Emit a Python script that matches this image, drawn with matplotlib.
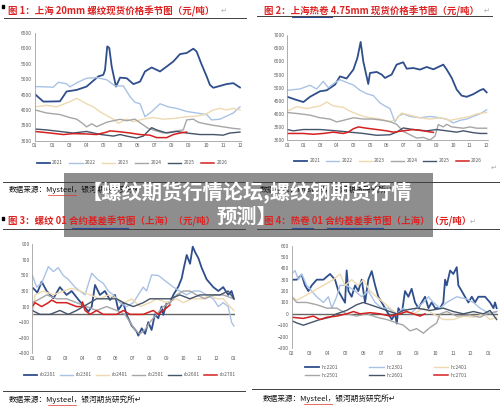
import matplotlib
matplotlib.use("Agg")
import matplotlib.pyplot as plt
from matplotlib.lines import Line2D
from matplotlib.patches import Rectangle

plt.rcParams['font.family'] = ['Noto Sans CJK SC', 'DejaVu Sans']

W, H = 500, 409

# ---- chart 1: Shanghai 20mm rebar spot (x = month position on the axis)
c1_xlabels = ['01', '01', '03', '04', '05', '05', '06', '07', '08', '09', '10', '11', '12']
c1_2021_x = [0, 0.49, 1.46, 1.85, 2.44, 3.02, 3.71, 4.0, 4.1, 4.23, 4.35, 4.49, 4.74, 4.98, 5.37, 5.76,
             6.15, 6.44, 6.83, 7.32, 7.71, 8.1, 8.49, 8.88, 9.27, 9.46, 9.76, 10.05, 10.24, 10.44, 10.83,
             11.22, 11.61, 12.0]
c1_2021_y = [4510, 4270, 4280, 4600, 4650, 4760, 5090, 5140, 5300, 6065, 6010, 5410, 4760, 5050, 5030, 4840,
             4920, 5250, 5380, 5250, 5410, 5575, 5815, 5850, 5990, 5900, 5470, 5090, 4815, 4720, 4780,
             4840, 4870, 4730]
c1_2022_x = [0, 1.07, 1.37, 1.85, 2.05, 2.44, 3.02, 3.61, 4.2, 4.68, 5.17, 5.56, 5.85, 6.15, 6.44, 6.83,
             7.32, 7.8, 8.29, 8.88, 9.46, 10.05, 10.34, 10.83, 11.22, 11.61, 12.0]
c1_2022_y = [4760, 4740, 4900, 4850, 4750, 4880, 5030, 5050, 4980, 4780, 4780, 4435, 4250, 4200, 3780, 3945,
             4200, 4100, 4050, 3950, 3900, 3850, 3675, 3700, 3800, 3900, 4100]
c1_2023_x = [0, 0.68, 1.27, 2.05, 2.44, 3.02, 3.41, 3.8, 4.2, 4.59, 4.88, 5.37, 5.76, 6.34, 6.93, 7.51,
             8.1, 8.88, 9.46, 9.95, 10.44, 10.83, 11.22, 11.61, 12.0]
c1_2023_y = [4100, 4150, 4100, 4270, 4380, 4200, 4100, 3945, 3815, 3700, 3565, 3700, 3620, 3700, 3750, 3700,
             3720, 3780, 3800, 3850, 4000, 4050, 4000, 4050, 4000]
c1_2024_x = [0, 0.68, 1.46, 2.05, 2.44, 2.83, 3.02, 3.32, 3.61, 4.2, 4.59, 4.98, 5.37, 5.85, 6.34, 6.63,
             6.93, 7.51, 8.1, 8.68, 8.88, 9.27, 9.56, 9.95, 10.44, 11.02, 11.61, 12.0]
c1_2024_y = [4000, 3900, 3850, 3750, 3700, 3545, 3450, 3550, 3455, 3600, 3650, 3695, 3650, 3700, 3510, 3400,
             3350, 3250, 3300, 3350, 3675, 3700, 3600, 3550, 3500, 3450, 3400, 3380]
c1_2025_x = [0, 0.68, 1.46, 2.24, 3.02, 3.8, 4.59, 4.98, 5.37, 5.95, 6.34, 6.83, 7.12, 7.71, 8.29, 8.88,
             9.66, 10.44, 11.02, 11.41, 12.0]
c1_2025_y = [3380, 3350, 3300, 3250, 3300, 3206, 3150, 3200, 3150, 3087, 3150, 3424, 3350, 3250, 3300, 3250,
             3200, 3200, 3180, 3250, 3280]
c1_2026_x = [0, 0.88, 1.66, 2.24, 3.02, 3.61, 4.2, 4.39, 4.98, 5.56, 6.15, 6.73, 7.12, 7.71, 8.1, 8.49, 8.88]
c1_2026_y = [3300, 3250, 3200, 3230, 3220, 3200, 3280, 3320, 3290, 3250, 3200, 3180, 3100, 3100, 3200, 3250, 3280]

# ---- chart 2: Shanghai 4.75mm hot coil spot
c2_xlabels = ['01', '01', '03', '04', '05', '05', '06', '07', '08', '09', '10', '11', '12']
c2_2021_x = [0, 0.46, 0.97, 1.37, 1.97, 2.38, 2.88, 3.18, 3.58, 3.99, 4.23, 4.43, 4.59, 4.89, 4.99, 5.4,
             5.7, 5.9, 6.3, 6.6, 7.0, 7.21, 7.61, 8.01, 8.42, 8.82, 9.42, 9.62, 9.93, 10.23, 10.53, 10.83,
             11.23, 11.64, 11.84, 12.04]
c2_2021_y = [4650, 4550, 4450, 4650, 4860, 4900, 5115, 5430, 5350, 5690, 6130, 6745, 6000, 5140, 5560, 5600,
             5500, 5370, 5500, 5880, 5970, 5725, 5750, 5690, 5790, 5700, 5880, 5700, 5370, 4925, 4695, 4650,
             4750, 4900, 4950, 4820]
c2_2022_x = [0, 0.76, 1.37, 1.77, 2.17, 2.48, 2.78, 3.18, 3.58, 3.99, 4.39, 4.79, 5.19, 5.6, 5.9, 6.2,
             6.5, 6.7, 7.0, 7.41, 8.01, 8.62, 9.22, 9.62, 10.03, 10.43, 10.83, 11.23, 11.64, 12.04]
c2_2022_y = [4900, 4950, 5090, 4950, 5240, 5000, 5150, 5305, 5200, 5100, 4900, 4770, 4700, 4415, 4300, 4200,
             3690, 3905, 4000, 3900, 3850, 3900, 3850, 3800, 3650, 3750, 3800, 3900, 4000, 4150]
c2_2023_x = [0, 0.56, 1.17, 1.97, 2.38, 2.78, 3.38, 3.78, 4.19, 4.59, 4.99, 5.6, 6.2, 6.6, 6.9, 7.41,
             8.01, 8.62, 9.22, 9.82, 10.23, 10.63, 11.03, 11.44, 12.04]
c2_2023_y = [4100, 4275, 4200, 4300, 4450, 4300, 4250, 4100, 4000, 3900, 3850, 3800, 3700, 3800, 4030, 3950,
             3850, 3800, 3850, 3750, 3800, 3850, 3900, 4000, 4050]
c2_2024_x = [0, 0.77, 1.37, 1.97, 2.58, 2.98, 3.38, 3.99, 4.59, 5.19, 5.8, 6.2, 6.6, 7.0, 7.41, 7.81,
             8.21, 8.62, 8.92, 9.12, 9.42, 9.62, 9.93, 10.63, 11.03, 11.44, 12.04]
c2_2024_y = [4050, 4000, 3950, 3850, 3800, 3690, 3750, 3850, 3800, 3800, 3750, 3700, 3600, 3330, 3200, 3075,
             3100, 3000, 3150, 3590, 3500, 3600, 3500, 3450, 3500, 3450, 3450]
c2_2025_x = [0, 0.36, 0.97, 1.97, 2.98, 3.78, 4.59, 5.4, 6.2, 6.6, 7.0, 7.61, 8.42, 9.02, 9.62, 10.23,
             10.63, 11.23, 11.64, 12.04]
c2_2025_y = [3400, 3350, 3400, 3400, 3350, 3300, 3250, 3180, 3200, 3300, 3460, 3400, 3350, 3400, 3350, 3300,
             3350, 3280, 3250, 3250]
c2_2026_x = [0, 0.97, 1.57, 2.17, 2.78, 3.38, 3.68, 3.99, 4.29, 4.79, 5.4, 6.0, 6.4, 7.0, 7.61, 8.21, 8.82]
c2_2026_y = [3250, 3250, 3220, 3250, 3300, 3250, 3300, 3430, 3500, 3450, 3400, 3350, 3300, 3350, 3400, 3350, 3290]

# ---- chart 3: rebar 01 contract basis (Shanghai)
c3_xlabels = ['01', '02', '03', '04', '05', '06', '07', '08', '09', '10', '11', '12', '01']
rb2201_x = [0.06, 0.3, 0.56, 0.86, 1.26, 1.65, 2.05, 2.35, 2.85, 3.05, 3.35, 3.55, 3.75, 4.04, 4.34, 4.64,
            4.94, 5.14, 5.44, 5.64, 5.94, 6.24, 6.34, 6.54, 6.74, 6.93, 7.13, 7.33, 7.53, 7.73, 7.83, 8.03,
            8.23, 8.43, 8.73, 8.93, 9.03, 9.23, 9.43, 9.59, 9.73, 9.93, 10.12, 10.42, 10.62, 10.82, 11.12,
            11.41, 11.71, 11.91, 12.05]
rb2201_y = [335, 280, 420, 300, 206, 350, 250, 300, 164, 121, 35, 100, 378, 250, 300, 185,
            250, 57, 150, -7, -144, -221, -273, -179, -250, -100, -200, 0, -50, 100, -7, 150,
            150, 250, 357, 463, 570, 763, 650, 870, 800, 720, 600, 450, 400, 350, 300,
            350, 250, 300, 200]
rb2301_x = [0, 0.26, 0.56, 0.96, 1.26, 1.55, 1.85, 2.15, 2.55, 2.85, 3.15, 3.55, 3.94, 4.24, 4.54, 4.84,
            5.24, 5.64, 6.04, 6.33, 6.63, 6.83, 7.13, 7.53, 7.83, 8.13, 8.43, 8.82, 9.22, 9.62, 10.02,
            10.42, 10.82, 11.12, 11.41, 11.71, 11.91, 12.05]
rb2301_y = [506, 350, 400, 613, 550, 600, 500, 450, 350, 300, 250, 528, 442, 400, 300, 250,
            150, 100, 150, 250, 350, 300, 506, 500, 450, 400, 350, 300, 250, 300, 300,
            250, 200, 100, 150, 100, -100, -150]
rb2401_x = [0, 0.16, 0.66, 1.26, 1.85, 2.35, 2.85, 3.45, 4.04, 4.54, 5.04, 5.54, 5.94, 6.43, 7.03, 7.43,
            8.03, 8.63, 9.02, 9.52, 10.22, 10.62, 11.02, 11.41, 11.81, 12.05]
rb2401_y = [-50, 250, 300, 250, 300, 335, 300, 250, 200, 250, 200, 150, 200, 100, 150, 200,
            150, 200, 150, 200, 200, 250, 200, 200, 100, 50]
rb2501_x = [0, 0.46, 0.86, 1.45, 2.05, 2.65, 3.25, 3.84, 4.44, 5.04, 5.54, 5.84, 6.14, 6.43, 6.73, 7.03,
            7.43, 7.83, 8.23, 8.63, 9.02, 9.42, 9.82, 10.32, 10.82, 11.41, 12.05]
rb2501_y = [150, 200, 250, 200, 200, 150, 100, 50, 100, 50, 0, -100, -200, -250, -200, -100,
            0, 100, 150, 250, 300, 300, 250, 200, 250, 250, 200]
rb2601_x = [0, 0.46, 1.06, 1.65, 2.15, 2.65, 3.05, 3.45, 3.84, 4.44, 5.04, 5.44, 6.04, 6.63, 7.03, 7.63,
            8.23, 8.82, 9.42, 10.02, 10.62, 11.22, 11.71, 12.05]
rb2601_y = [50, 0, 0, 50, 0, 50, 100, 150, 200, 200, 200, 150, 100, 150, 200, 200,
            200, 250, 200, 250, 250, 250, 300, 200]
rb2701_x = [0, 0.16, 0.56, 0.96, 1.16, 1.45, 2.05, 2.65, 2.95, 3.0, 3.15, 3.45, 3.84, 4.24, 5.04, 5.44,
            5.84, 6.63, 7.23, 7.53, 7.83, 8.23]
rb2701_y = [100, 150, 100, 150, 184, 150, 150, 100, 100, 160, 51, 0, 50, 0, 0, 50,
            0, 0, 50, 0, 50, 121]

# ---- chart 4: hot coil 01 contract basis (Shanghai)
c4_xlabels = ['02', '03', '04', '05', '06', '07', '08', '09', '10', '11', '12', '01']
hc2201_x = [0, 0.28, 0.56, 0.74, 0.93, 1.12, 1.4, 1.77, 2.14, 2.42, 2.61, 2.79, 2.98, 3.07, 3.17, 3.35,
            3.54, 3.72, 3.91, 4.1, 4.28, 4.47, 4.66, 4.84, 5.03, 5.21, 5.4, 5.59, 5.77, 5.87, 5.96, 6.15,
            6.33, 6.52, 6.7, 6.89, 7.08, 7.26, 7.45, 7.64, 7.82, 8.01, 8.29, 8.47, 8.57, 8.66, 8.85, 9.03,
            9.22, 9.31, 9.5, 9.68, 9.87, 10.06, 10.24, 10.43, 10.8, 11.08, 11.27, 11.36, 11.45]
hc2201_y = [300, 300, 343, 250, 200, 250, 300, 300, 350, 300, 200, 150, 98, 381, 200, 150,
            250, 200, 300, 100, 300, 375, 250, 150, 100, 50, 0, -50, 0, -86, 50, 0,
            200, 150, 220, 100, 50, 100, 150, 50, 100, 50, 50, 100, 300, 250, 380, 350,
            410, 250, 200, 150, 100, 150, 100, 150, 150, 100, 50, 100, 50]
hc2301_x = [0, 0.19, 0.37, 0.56, 0.84, 1.12, 1.4, 1.77, 2.05, 2.24, 2.51, 2.7, 3.07, 3.54, 3.91, 4.28,
            4.66, 5.03, 5.4, 5.87, 6.24, 6.61, 6.98, 7.36, 7.64, 7.91, 8.29, 8.66, 9.22, 9.78, 10.15,
            10.52, 11.08, 11.45]
hc2301_y = [350, 380, 300, 350, 250, 200, 150, 100, 150, 50, 150, 250, 250, 200, 150, 200,
            100, 50, 50, 0, 50, 0, 50, 100, 150, 100, 50, 100, 150, 130, 100,
            50, 0, 20]
hc2401_x = [0, 0.28, 0.65, 1.21, 1.77, 2.33, 2.7, 2.98, 3.35, 3.72, 4.0, 4.38, 4.75, 5.12, 5.49, 5.87,
            6.24, 6.8, 7.36, 7.91, 8.47, 9.03, 9.59, 10.15, 10.71, 11.08, 11.45]
hc2401_y = [150, 120, 150, 200, 250, 300, 350, 250, 300, 250, 300, 200, 150, 100, 50, 0,
            20, 0, 50, 0, -50, -50, -20, -30, 0, -50, -30]
hc2501_x = [0, 0.28, 0.84, 1.4, 1.96, 2.51, 3.07, 3.63, 4.19, 4.75, 5.31, 5.87, 6.24, 6.61, 6.98, 7.36,
            7.73, 8.1, 8.29, 8.66, 9.22, 9.96, 10.52, 10.89, 11.45]
hc2501_y = [150, 100, 100, 80, 50, 50, 0, -20, 0, -30, -50, -80, -100, -150, -130, -170,
            -120, -80, 0, 20, -20, -10, -30, 0, 20]
hc2601_x = [0, 0.28, 0.65, 1.02, 1.58, 2.14, 2.51, 3.07, 3.63, 4.0, 4.38, 4.94, 5.49, 5.87, 6.24, 6.98,
            7.73, 8.47, 9.03, 9.59, 10.15, 10.71, 11.08, 11.45]
hc2601_y = [-60, -80, -100, -80, -50, -30, 0, 30, 80, 100, 80, 50, 20, 0, 30, 50,
            30, 50, 20, 0, 20, 0, 30, -50]
hc2701_x = [0, 0.65, 1.21, 1.58, 1.96, 2.51, 3.07, 3.45, 3.82, 4.38, 4.94, 5.49, 6.05, 6.42, 6.8, 7.17, 7.45]
hc2701_y = [-30, -40, -20, -50, -30, -20, 0, 20, 0, 10, 0, -20, 0, 20, 0, -20, 0]

years = ['2021', '2022', '2023', '2024', '2025', '2026']
colors = ['#2F4E8C', '#A9C3E6', '#EED9B0', '#A6A6A6', '#44546A', '#D42020']
widths = [1.3, 1.0, 1.0, 1.0, 1.0, 1.1]


def frac_rect(x0, x1, y_top, y_bot):
    return [x0 / W, 1 - y_bot / H, (x1 - x0) / W, (y_bot - y_top) / H]


def hline(fig, x0, x1, y, color='#404040', lw=0.7):
    fig.add_artist(Line2D([x0 / W, x1 / W], [1 - y / H, 1 - y / H], color=color, lw=lw))


def season_chart(fig, rect, series, labels, xlim, ylim, yticks, xlabels, zero=False):
    ax = fig.add_axes(rect)
    handles = []
    for (xs, ys), lab, c, lw in zip(series, labels, colors, widths):
        h, = ax.plot(xs, ys, color=c, lw=lw, label=lab)
        handles.append(h)
    ax.set_xlim(*xlim)
    ax.set_ylim(*ylim)
    ax.set_yticks(yticks)
    ax.set_xticks(range(len(xlabels)))
    ax.set_xticklabels(xlabels)
    ax.tick_params(length=0, labelsize=3.5, labelcolor='#595959', pad=2)
    for s in ['top', 'right']:
        ax.spines[s].set_visible(False)
    ax.spines['left'].set_color('#a0a0a0')
    ax.spines['left'].set_linewidth(0.6)
    if zero:
        ax.spines['bottom'].set_visible(False)
        ax.axhline(0, color='#666666', lw=1.0, zorder=0)
    else:
        ax.spines['bottom'].set_color('#a0a0a0')
        ax.spines['bottom'].set_linewidth(0.6)
    ax.patch.set_alpha(0)
    return ax, handles


fig = plt.figure(figsize=(5, 4.09), dpi=100)
fig.patch.set_facecolor('white')

# chart 1
ax1, h1 = season_chart(
    fig, frac_rect(35, 35 + 12.05 * 17.08, 33, 140.7),
    [(c1_2021_x, c1_2021_y), (c1_2022_x, c1_2022_y), (c1_2023_x, c1_2023_y),
     (c1_2024_x, c1_2024_y), (c1_2025_x, c1_2025_y), (c1_2026_x, c1_2026_y)],
    years, (0, 12.05), (3000, 6500), range(3000, 7000, 500), c1_xlabels)
fig.legend(h1, years, loc='center', bbox_to_anchor=(132 / W, 1 - 163 / H), ncol=6, frameon=False,
           fontsize=3.5, handlelength=2.7, handletextpad=0.5, columnspacing=1.3, labelcolor='#595959')

# chart 2
ax2, h2 = season_chart(
    fig, frac_rect(287.3, 287.3 + 12.1 * 16.56, 35.3, 140),
    [(c2_2021_x, c2_2021_y), (c2_2022_x, c2_2022_y), (c2_2023_x, c2_2023_y),
     (c2_2024_x, c2_2024_y), (c2_2025_x, c2_2025_y), (c2_2026_x, c2_2026_y)],
    years, (0, 12.1), (3000, 7000), range(3000, 7500, 500), c2_xlabels)
fig.legend(h2, years, loc='center', bbox_to_anchor=(388 / W, 1 - 161 / H), ncol=6, frameon=False,
           fontsize=3.5, handlelength=2.7, handletextpad=0.5, columnspacing=1.2, labelcolor='#595959')

# chart 3
rb_labels = ['rb2201', 'rb2301', 'rb2401', 'rb2501', 'rb2601', 'rb2701']
ax3, h3 = season_chart(
    fig, frac_rect(32.3, 32.3 + 12.1 * 16.73, 244.3, 353.3),
    [(rb2201_x, rb2201_y), (rb2301_x, rb2301_y), (rb2401_x, rb2401_y),
     (rb2501_x, rb2501_y), (rb2601_x, rb2601_y), (rb2701_x, rb2701_y)],
    rb_labels, (0, 12.1), (-500, 900), range(-500, 1000, 200), c3_xlabels, zero=True)
fig.legend(h3, rb_labels, loc='center', bbox_to_anchor=(130 / W, 1 - 375 / H), ncol=6, frameon=False,
           fontsize=3.5, handlelength=2.7, handletextpad=0.5, columnspacing=0.9, labelcolor='#595959')

# chart 4
hc_labels = ['hc2201', 'hc2301', 'hc2401', 'hc2501', 'hc2601', 'hc2701']
ax4, h4 = season_chart(
    fig, frac_rect(291.7, 291.7 + 11.52 * 17.9, 245.5, 348),
    [(hc2201_x, hc2201_y), (hc2301_x, hc2301_y), (hc2401_x, hc2401_y),
     (hc2501_x, hc2501_y), (hc2601_x, hc2601_y), (hc2701_x, hc2701_y)],
    hc_labels, (0, 11.52), (-300, 600), range(-300, 700, 100), c4_xlabels, zero=True)
order = [0, 3, 1, 4, 2, 5]
fig.legend([h4[i] for i in order], [hc_labels[i] for i in order], loc='center',
           bbox_to_anchor=(386 / W, 1 - 371.5 / H), ncol=3, frameon=False, fontsize=3.5,
           handlelength=2.9, handletextpad=0.5, columnspacing=6.5, labelspacing=0.6, labelcolor='#595959')

# titles
red = '#DD2222'
fig.text(8 / W, 1 - 11 / H, '图 1：上海 20mm 螺纹现货价格季节图（元/吨）', color=red, fontsize=6.8,
         fontweight='bold', va='center')
fig.text(264 / W, 1 - 11 / H, '图 2：上海热卷 4.75mm 现货价格季节图（元/吨）', color=red, fontsize=6.8,
         fontweight='bold', va='center')
fig.text(8 / W, 1 - 221.5 / H, '图 3：螺纹 01 合约基差季节图（上海）（元/吨）', color=red, fontsize=6.8,
         fontweight='bold', va='center')
fig.text(264 / W, 1 - 221.5 / H, '图 4：热卷 01 合约基差季节图（上海）（元/吨）', color=red, fontsize=6.8,
         fontweight='bold', va='center')
for (x, y) in [(221, 11), (484, 11), (470, 221.5), (491, 168)]:
    fig.text(x / W, 1 - y / H, '↵', color='#aaaaaa', fontsize=5, va='center', family='DejaVu Sans')
for y in [6.5, 218.5]:
    fig.add_artist(Rectangle((2 / W, 1 - (y + 1.2) / H), 2.2 / W, 2.4 / H, color='black'))

# rules and spell-check underlines
hline(fig, 4, 246, 17.5)
hline(fig, 257, 492, 15.5)
hline(fig, 3, 247, 182)
hline(fig, 253, 500, 182)
hline(fig, 3, 245, 228.5)
hline(fig, 257, 500, 228.5)
hline(fig, 3, 245, 391)
hline(fig, 252, 500, 389)
blue = '#2F4E9F'
hline(fig, 292, 332, 16.5, blue, 0.8)
hline(fig, 72, 128, 227.5, blue, 0.8)
hline(fig, 292, 313, 227.5, blue, 0.8)
hline(fig, 327, 383, 227.5, blue, 0.8)

# sources (the first two sit under the banner, as in the original page)
src = '数据来源：Mysteel，银河期货研究所'
fig.text(9 / W, 1 - 190 / H, src + '↵', fontsize=5.5, va='center', color='#111111')
fig.text(260 / W, 1 - 190 / H, src + '↵', fontsize=5.5, va='center', color='#111111')
fig.text(9 / W, 1 - 400 / H, src + '↵', fontsize=5.5, va='center', color='#111111')
fig.text(263 / W, 1 - 399 / H, src + '↵', fontsize=5.5, va='center', color='#111111')
for (x0, x1, y) in [(48, 76, 194.5), (48, 76, 404.5), (304, 332, 403.5)]:
    hline(fig, x0, x1, y, '#E03030', 0.5)

# overlay banner
fig.add_artist(Rectangle((64 / W, 1 - 237 / H), (433 - 64) / W, (237 - 173) / H,
                         facecolor='#7a7a7a', edgecolor='none', alpha=0.85))
fig.text(247 / W, 1 - 192 / H, '【螺纹期货行情论坛,螺纹钢期货行情', color='white', fontsize=14.6,
         fontweight='bold', ha='center', va='center')
fig.text(247 / W, 1 - 216.5 / H, '预测】', color='white', fontsize=14.6,
         fontweight='bold', ha='center', va='center')

fig.savefig('out.png', dpi=100)
